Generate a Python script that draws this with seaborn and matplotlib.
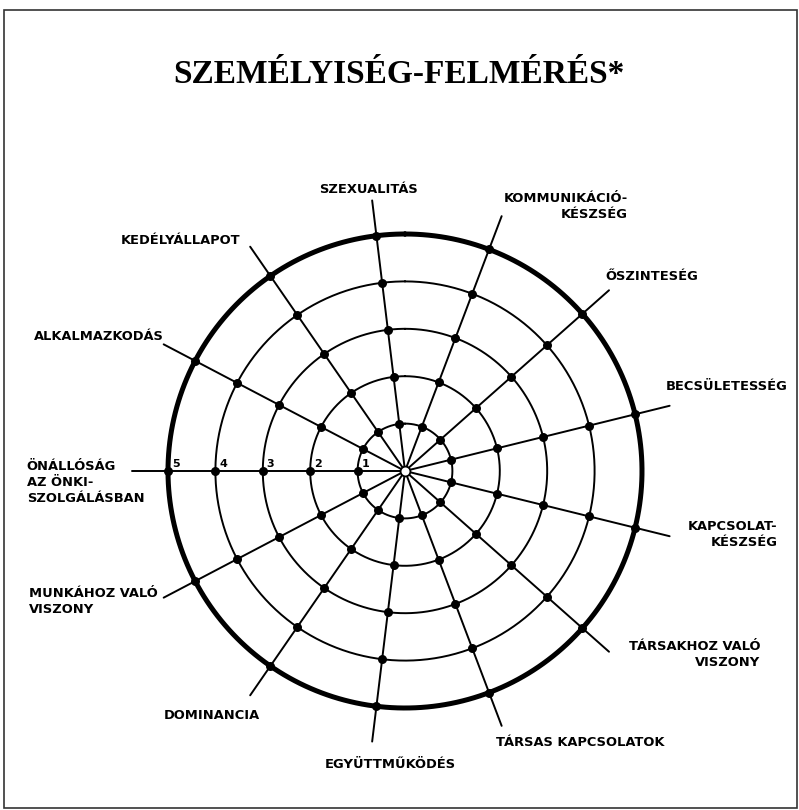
import numpy as np
import pandas as pd
import seaborn as sns
import matplotlib.pyplot as plt
from matplotlib.patches import Rectangle

# ---------- 1. Data ----------
title = "SZEMÉLYISÉG-FELMÉRÉS*"

# clockwise, starting from the left spoke
categories = [
    "ÖNÁLLÓSÁG\nAZ ÖNKI-\nSZOLGÁLÁSBAN",
    "ALKALMAZKODÁS",
    "KEDÉLYÁLLAPOT",
    "SZEXUALITÁS",
    "KOMMUNIKÁCIÓ-\nKÉSZSÉG",
    "ŐSZINTESÉG",
    "BECSÜLETESSÉG",
    "KAPCSOLAT-\nKÉSZSÉG",
    "TÁRSAKHOZ VALÓ\nVISZONY",
    "TÁRSAS KAPCSOLATOK",
    "EGYÜTTMŰKÖDÉS",
    "DOMINANCIA",
    "MUNKÁHOZ VALÓ\nVISZONY",
]
levels = [1, 2, 3, 4, 5]
level_labels = ["1", "2", "3", "4", "5"]

# label layout: pixel offset from spoke end, ha, multialignment
label_layout = [
    (12, -12, "right", "left"),
    (0, 8, "right", "left"),
    (-10, 6, "right", "left"),
    (-4, 11, "center", "center"),
    (2, 10, "left", "right"),
    (-4, 14, "left", "left"),
    (-4, 19, "left", "left"),
    (18, 2, "left", "right"),
    (20, -3, "left", "right"),
    (-6, -17, "left", "left"),
    (18, -23, "center", "center"),
    (10, -20, "right", "left"),
    (-6, -4, "right", "left"),
]

n = len(categories)
theta = np.deg2rad(270 + np.arange(n) * 360 / n)
spoke_len = 5.75
r_max = 6.0

dots = pd.DataFrame(
    [(t, lv) for t in theta for lv in levels], columns=["theta", "r"]
)

# ---------- 2. Figure ----------
sns.set_style("white")
plt.rcParams["font.family"] = ["DejaVu Sans"]
plt.rcParams["text.color"] = "black"

W, H = 799, 810
fig = plt.figure(figsize=(W / 100, H / 100), dpi=100)

cx, cy = 405, H - 471          # centre of the web in pixels
rad_px = 47.4 * r_max
ax = fig.add_axes(
    [(cx - rad_px) / W, (cy - rad_px) / H, 2 * rad_px / W, 2 * rad_px / H],
    projection="polar",
)
ax.set_theta_zero_location("N")
ax.set_theta_direction(-1)

# rings
tt = np.linspace(0, 2 * np.pi, 500)
for lv in levels:
    ax.plot(tt, np.full_like(tt, lv), color="black",
            lw=3.6 if lv == levels[-1] else 1.4, zorder=2)

# spokes
for t in theta:
    ax.plot([t, t], [0, spoke_len], color="black", lw=1.4, zorder=2)

# intersection dots
sns.scatterplot(data=dots, x="theta", y="r", ax=ax, color="black",
                s=42, linewidth=0, legend=False, zorder=4)

# hollow centre
ax.scatter([0], [0], s=50, facecolor="white", edgecolor="black",
           linewidth=1.3, zorder=5)

# scale numbers on the left spoke
for lv, lab in zip(levels, level_labels):
    ax.annotate(lab, xy=(theta[0], lv), xytext=(4, 7),
                textcoords="offset pixels", ha="left", va="center",
                fontsize=8, fontweight="bold", color="black", zorder=6)

# category labels
for t, cat, (dx, dy, ha, ma) in zip(theta, categories, label_layout):
    ax.annotate(cat, xy=(t, spoke_len), xytext=(dx, dy),
                textcoords="offset pixels", ha=ha, va="center",
                multialignment=ma, fontsize=9.4, fontweight="bold",
                color="black", linespacing=1.3, annotation_clip=False)

ax.set_ylim(0, r_max)
ax.set_xlabel("")
ax.set_ylabel("")
ax.set_axis_off()

# title and frame
fig.text(399 / W, 1 - 83 / H, title, ha="center", va="baseline",
         fontsize=24, fontweight="bold", family="Liberation Serif",
         color="black")
fig.add_artist(Rectangle((4 / W, 2 / H), 793 / W, 798 / H,
                         transform=fig.transFigure, fill=False,
                         lw=1.2, ec="#333333"))

fig.savefig("out.png", dpi=100)
